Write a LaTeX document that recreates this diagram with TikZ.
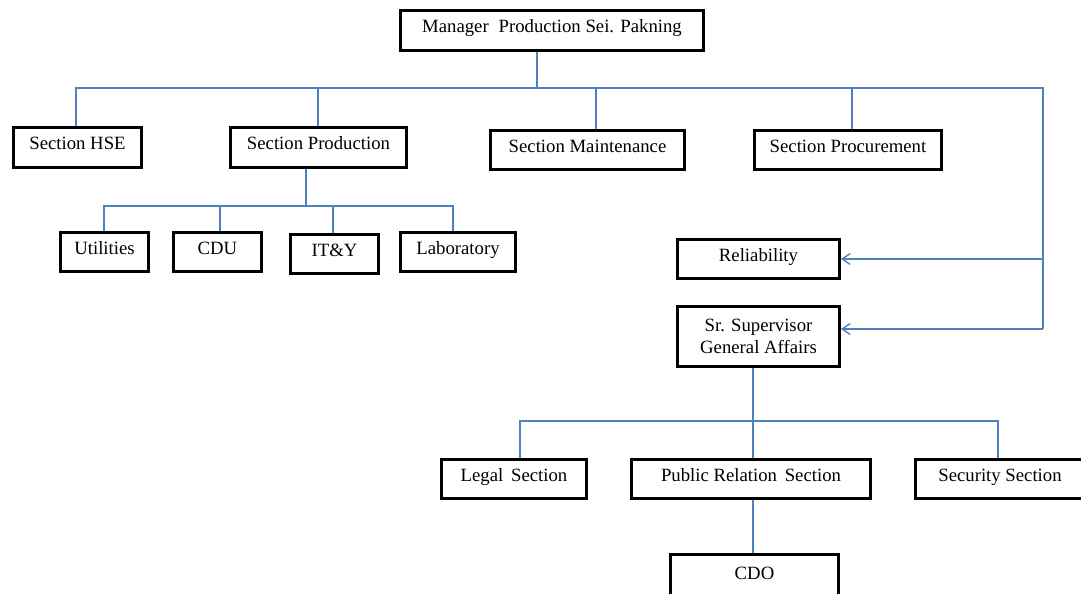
\documentclass[tikz,border=0pt]{standalone}
\usepackage{fontspec}
\setmainfont{Liberation Serif}
\usetikzlibrary{arrows.meta}
\definecolor{linkblue}{RGB}{79,129,189}
\tikzset{
  boxbase/.style={draw=black, line width=3bp, fill=white, rectangle, inner sep=0pt,
    align=center, font=\fontsize{18.8}{22}\selectfont},
  onebox/.style={boxbase, text height=13bp, text depth=8bp},
  conn/.style={draw=linkblue, line width=1.4bp},
  arr/.style={conn, -{Straight Barb[length=8bp,width=11bp,line width=1.4bp]}},
}
\begin{document}
\begin{tikzpicture}[x=1bp,y=-1bp]
\useasboundingbox (0,0) rectangle (1081,594);
% nodes
\node[onebox, minimum width=303bp, minimum height=40bp] (mgr) at (552,30.5) {Manager\; Production Sei. Pakning};
\node[onebox, minimum width=128bp, minimum height=40bp] (hse) at (77.5,147.5) {Section HSE};
\node[onebox, minimum width=176bp, minimum height=40bp] (prod) at (318.5,147.5) {Section Production};
\node[onebox, minimum width=194bp, minimum height=39bp] (maint) at (587.5,150) {Section Maintenance};
\node[onebox, minimum width=187bp, minimum height=39bp] (proc) at (848,150) {Section Procurement};
\node[onebox, minimum width=88bp, minimum height=39bp] (util) at (104.5,252) {Utilities};
\node[onebox, minimum width=88bp, minimum height=39bp] (cdu) at (217.5,252) {CDU};
\node[onebox, minimum width=88bp, minimum height=39bp] (ity) at (334.5,254) {IT\&Y};
\node[onebox, minimum width=115bp, minimum height=39bp] (lab) at (458,252) {Laboratory};
\node[onebox, minimum width=162bp, minimum height=39bp] (rel) at (758.5,259) {Reliability};
\node[boxbase, minimum width=162bp, minimum height=60bp] (sup) at (758.5,336.5) {Sr. Supervisor\\General Affairs};
\node[onebox, minimum width=145bp, minimum height=39bp] (legal) at (514,479) {Legal\, Section};
\node[onebox, minimum width=239bp, minimum height=39bp] (pr) at (751,479) {Public Relation\, Section};
\node[onebox, minimum width=193bp, minimum height=39bp] (sec) at (1012,479) {\hspace*{-24bp}Security Section};
\node[onebox, minimum width=168bp, minimum height=44bp] (cdo) at (754.5,576.5) {CDO};
% helper coordinates
\coordinate (busR) at (1043,88);
\coordinate (corner) at (1043,329);
\coordinate (mx) at (537,0);
\coordinate (hx) at (76,0);
\coordinate (px) at (318,0);
\coordinate (pdx) at (306,0);
\coordinate (maintx) at (596,0);
\coordinate (procx) at (852,0);
\coordinate (pbus) at (0,206);
\coordinate (ux) at (104,0);
\coordinate (cx) at (220,0);
\coordinate (ix) at (333,0);
\coordinate (lx) at (453,0);
\coordinate (gbus) at (0,421);
\coordinate (gx) at (753,0);
\coordinate (legx) at (520,0);
\coordinate (secx) at (998,0);
% top level
\draw[conn] (mgr.south -| mx) -- (busR -| mx);
\draw[conn] (hse.north -| hx) |- (busR) -- (corner);
\draw[conn] (prod.north -| px) -- (busR -| px);
\draw[conn] (maint.north -| maintx) -- (busR -| maintx);
\draw[conn] (proc.north -| procx) -- (busR -| procx);
\draw[arr] (corner |- rel.east) -- (rel.east);
\draw[arr] (corner) -- (corner -| sup.east);
% production children
\draw[conn] (prod.south -| pdx) -- (pbus -| pdx);
\draw[conn] (util.north -| ux) |- (pbus -| lx) -- (lab.north -| lx);
\draw[conn] (cdu.north -| cx) -- (pbus -| cx);
\draw[conn] (ity.north -| ix) -- (pbus -| ix);
% general affairs
\draw[conn] (sup.south -| gx) -- (pr.north -| gx);
\draw[conn] (legal.north -| legx) |- (gbus -| secx) -- (sec.north -| secx);
\draw[conn] (pr.south -| gx) -- (cdo.north -| gx);
\end{tikzpicture}
\end{document}
